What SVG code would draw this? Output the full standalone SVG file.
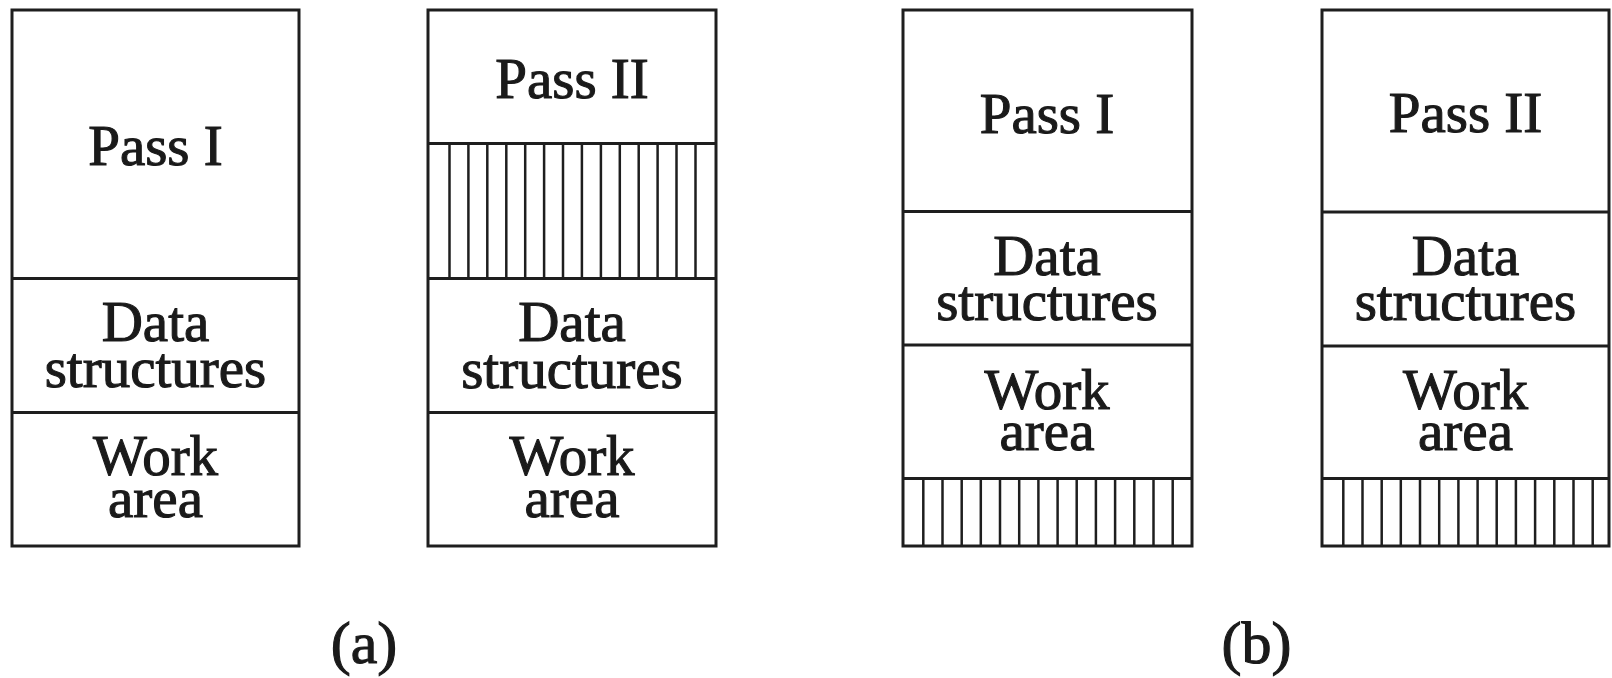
<svg xmlns="http://www.w3.org/2000/svg" width="1612" height="678" viewBox="0 0 1612 678">
<style>
.frame{fill:#fff;stroke:#1e1e1e;stroke-width:3}
.div{stroke:#1e1e1e;stroke-width:3}
.hatch{stroke:#1e1e1e;stroke-width:2.5}
text{font-family:"Liberation Serif","Times New Roman",serif;font-size:57px;fill:#1a1a1a;text-anchor:middle;stroke:#1a1a1a;stroke-width:1.1}
.cap{font-size:60px}
</style>
<rect width="1612" height="678" fill="#fff"/>
<g id="a-pass1">
<rect class="frame" x="12" y="10" width="287" height="536"/>
<line class="div" x1="12" y1="278.5" x2="299" y2="278.5"/>
<line class="div" x1="12" y1="412.5" x2="299" y2="412.5"/>
<text x="155.5" y="165">Pass I</text>
<text x="155.5" y="341">Data</text>
<text x="155.5" y="387">structures</text>
<text x="155.5" y="475">Work</text>
<text x="155.5" y="517">area</text>
</g>
<g id="a-pass2">
<rect class="frame" x="428" y="10" width="288" height="536"/>
<line class="div" x1="428" y1="143.5" x2="716" y2="143.5"/>
<line class="div" x1="428" y1="278.5" x2="716" y2="278.5"/>
<line class="div" x1="428" y1="412.5" x2="716" y2="412.5"/>
<g class="hatch">
<line x1="449.5" y1="143.5" x2="449.5" y2="278.5"/>
<line x1="468.4" y1="143.5" x2="468.4" y2="278.5"/>
<line x1="487.3" y1="143.5" x2="487.3" y2="278.5"/>
<line x1="506.3" y1="143.5" x2="506.3" y2="278.5"/>
<line x1="525.2" y1="143.5" x2="525.2" y2="278.5"/>
<line x1="544.1" y1="143.5" x2="544.1" y2="278.5"/>
<line x1="563.0" y1="143.5" x2="563.0" y2="278.5"/>
<line x1="581.9" y1="143.5" x2="581.9" y2="278.5"/>
<line x1="600.9" y1="143.5" x2="600.9" y2="278.5"/>
<line x1="619.8" y1="143.5" x2="619.8" y2="278.5"/>
<line x1="638.7" y1="143.5" x2="638.7" y2="278.5"/>
<line x1="657.6" y1="143.5" x2="657.6" y2="278.5"/>
<line x1="676.5" y1="143.5" x2="676.5" y2="278.5"/>
<line x1="695.5" y1="143.5" x2="695.5" y2="278.5"/>
</g>
<text x="572" y="97.5">Pass II</text>
<text x="572" y="341">Data</text>
<text x="572" y="387.5">structures</text>
<text x="572" y="475">Work</text>
<text x="572" y="517">area</text>
</g>
<g id="b-pass1">
<rect class="frame" x="903" y="10" width="289" height="536"/>
<line class="div" x1="903" y1="211.5" x2="1192" y2="211.5"/>
<line class="div" x1="903" y1="345" x2="1192" y2="345"/>
<line class="div" x1="903" y1="478.5" x2="1192" y2="478.5"/>
<g class="hatch">
<line x1="923.3" y1="478.5" x2="923.3" y2="546"/>
<line x1="942.5" y1="478.5" x2="942.5" y2="546"/>
<line x1="961.7" y1="478.5" x2="961.7" y2="546"/>
<line x1="980.8" y1="478.5" x2="980.8" y2="546"/>
<line x1="1000.0" y1="478.5" x2="1000.0" y2="546"/>
<line x1="1019.2" y1="478.5" x2="1019.2" y2="546"/>
<line x1="1038.4" y1="478.5" x2="1038.4" y2="546"/>
<line x1="1057.6" y1="478.5" x2="1057.6" y2="546"/>
<line x1="1076.7" y1="478.5" x2="1076.7" y2="546"/>
<line x1="1095.9" y1="478.5" x2="1095.9" y2="546"/>
<line x1="1115.1" y1="478.5" x2="1115.1" y2="546"/>
<line x1="1134.3" y1="478.5" x2="1134.3" y2="546"/>
<line x1="1153.5" y1="478.5" x2="1153.5" y2="546"/>
<line x1="1172.7" y1="478.5" x2="1172.7" y2="546"/>
</g>
<text x="1047" y="132.5">Pass I</text>
<text x="1047" y="275">Data</text>
<text x="1047" y="320">structures</text>
<text x="1047" y="408.5">Work</text>
<text x="1047" y="450">area</text>
</g>
<g id="b-pass2">
<rect class="frame" x="1322" y="10" width="287" height="536"/>
<line class="div" x1="1322" y1="212" x2="1609" y2="212"/>
<line class="div" x1="1322" y1="346" x2="1609" y2="346"/>
<line class="div" x1="1322" y1="478.5" x2="1609" y2="478.5"/>
<g class="hatch">
<line x1="1343.3" y1="478.5" x2="1343.3" y2="546"/>
<line x1="1362.5" y1="478.5" x2="1362.5" y2="546"/>
<line x1="1381.7" y1="478.5" x2="1381.7" y2="546"/>
<line x1="1400.8" y1="478.5" x2="1400.8" y2="546"/>
<line x1="1420.0" y1="478.5" x2="1420.0" y2="546"/>
<line x1="1439.2" y1="478.5" x2="1439.2" y2="546"/>
<line x1="1458.4" y1="478.5" x2="1458.4" y2="546"/>
<line x1="1477.6" y1="478.5" x2="1477.6" y2="546"/>
<line x1="1496.7" y1="478.5" x2="1496.7" y2="546"/>
<line x1="1515.9" y1="478.5" x2="1515.9" y2="546"/>
<line x1="1535.1" y1="478.5" x2="1535.1" y2="546"/>
<line x1="1554.3" y1="478.5" x2="1554.3" y2="546"/>
<line x1="1573.5" y1="478.5" x2="1573.5" y2="546"/>
<line x1="1592.7" y1="478.5" x2="1592.7" y2="546"/>
</g>
<text x="1465.5" y="131.5">Pass II</text>
<text x="1465.5" y="275">Data</text>
<text x="1465.5" y="320">structures</text>
<text x="1465.5" y="408.5">Work</text>
<text x="1465.5" y="450">area</text>
</g>
<g id="captions">
<text class="cap" x="364" y="663">(a)</text>
<text class="cap" x="1256.5" y="663">(b)</text>
</g>
</svg>
